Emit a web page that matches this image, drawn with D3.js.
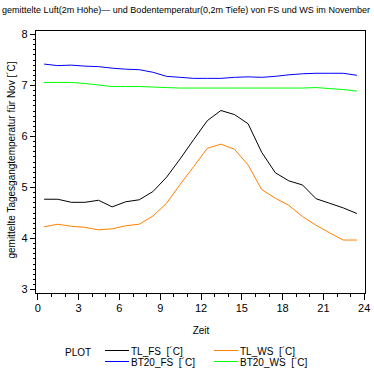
<!DOCTYPE html>
<html>
<head>
<meta charset="utf-8">
<script src="https://cdn.jsdelivr.net/npm/d3@7"></script>
<style>
  body { margin: 0; background: #fff; }
  svg text { font-family: Arial, "Liberation Sans", sans-serif; fill: #000; white-space: pre; }
</style>
</head>
<body>
<svg class="main-svg" width="374" height="374"></svg>
<script>
// stundenmittel, gemessen zur halben stunde
var hours = [0.5, 1.5, 2.5, 3.5, 4.5, 5.5, 6.5, 7.5, 8.5, 9.5, 10.5, 11.5,
             12.5, 13.5, 14.5, 15.5, 16.5, 17.5, 18.5, 19.5, 20.5, 21.5, 22.5, 23.5];

var tlFS = [4.76, 4.76, 4.70, 4.70, 4.74, 4.61, 4.71, 4.75, 4.91, 5.19, 5.55, 5.93,
            6.30, 6.50, 6.42, 6.24, 5.68, 5.28, 5.12, 5.04, 4.77, 4.68, 4.59, 4.48];
var tlWS = [4.22, 4.27, 4.23, 4.21, 4.16, 4.18, 4.24, 4.27, 4.43, 4.68, 5.05, 5.40,
            5.76, 5.84, 5.74, 5.43, 4.95, 4.78, 4.64, 4.42, 4.25, 4.10, 3.96, 3.96];
var bt20FS = [7.41, 7.38, 7.39, 7.37, 7.36, 7.33, 7.31, 7.30, 7.25, 7.17, 7.15, 7.13,
              7.13, 7.13, 7.15, 7.16, 7.15, 7.17, 7.20, 7.22, 7.23, 7.23, 7.23, 7.19];
var bt20WS = [7.05, 7.05, 7.05, 7.03, 7.00, 6.97, 6.97, 6.97, 6.96, 6.95, 6.94, 6.94,
              6.94, 6.94, 6.94, 6.94, 6.94, 6.94, 6.94, 6.94, 6.95, 6.93, 6.91, 6.88];

var xTicks = [0, 3, 6, 9, 12, 15, 18, 21, 24];
var yTicks = [3, 4, 5, 6, 7, 8];

var series = [
  { name: 'TL_FS  [´C]',   values: tlFS,   colour: '#000000' },
  { name: 'TL_WS  [´C]',   values: tlWS,   colour: '#ff8000' },
  { name: 'BT20_FS  [´C]', values: bt20FS, colour: '#0000ff' },
  { name: 'BT20_WS  [´C]', values: bt20WS, colour: '#00ff00' }
];

var svg = d3.select('.main-svg');

var x = d3.scaleLinear().domain([0, 24]).range([37.3, 363.7]),
    y = d3.scaleLinear().domain([3, 8]).range([289, 34]);

// titel
svg.append('text')
  .attr('x', 2).attr('y', 13)
  .attr('font-size', 9)
  .attr('textLength', 368)
  .attr('lengthAdjust', 'spacingAndGlyphs')
  .text('gemittelte Luft(2m Höhe)\u2014 und Bodentemperatur(0,2m Tiefe) von FS und WS im November');

// rahmen
svg.append('rect')
  .attr('x', 35.5).attr('y', 30.5)
  .attr('width', 330).attr('height', 263)
  .attr('fill', 'none')
  .attr('stroke', '#000')
  .attr('shape-rendering', 'crispEdges');

// y achse
var yMinor = d3.range(30, 81).map(d => d / 10);
svg.append('g')
  .attr('transform', 'translate(35.5,0)')
  .call(d3.axisLeft(y).tickValues(yMinor).tickSize(3).tickFormat(''))
  .call(g => g.select('.domain').remove());
svg.append('g')
  .attr('transform', 'translate(35.5,0)')
  .call(d3.axisLeft(y).tickValues(yTicks).tickSize(6).tickPadding(2).tickFormat(d3.format('d')))
  .call(g => g.select('.domain').remove())
  .call(g => g.selectAll('text').attr('font-size', 11).style('font-family', 'Arial, "Liberation Sans", sans-serif'));

// x achse
svg.append('g')
  .attr('transform', 'translate(0,293.5)')
  .call(d3.axisBottom(x).tickValues(d3.range(0, 25)).tickSize(3).tickFormat(''))
  .call(g => g.select('.domain').remove());
svg.append('g')
  .attr('transform', 'translate(0,293.5)')
  .call(d3.axisBottom(x).tickValues(xTicks).tickSize(6).tickPadding(5).tickFormat(d3.format('d')))
  .call(g => g.select('.domain').remove())
  .call(g => g.selectAll('text').attr('font-size', 11).style('font-family', 'Arial, "Liberation Sans", sans-serif'));

svg.selectAll('.tick line').attr('shape-rendering', 'crispEdges');

// achsentitel
svg.append('text')
  .attr('x', 201).attr('y', 334)
  .attr('text-anchor', 'middle')
  .attr('font-size', 10)
  .text('Zeit');

svg.append('text')
  .attr('transform', 'translate(15,160) rotate(-90)')
  .attr('text-anchor', 'middle')
  .attr('font-size', 10)
  .text('gemittelte Tagesgangtemperatur für Nov [´C]');

// kurven
var line = d3.line()
  .x((d, i) => x(hours[i]))
  .y(d => y(d));

svg.selectAll('path.series')
  .data(series)
  .enter()
  .append('path')
  .attr('class', 'series')
  .attr('fill', 'none')
  .attr('stroke', d => d.colour)
  .attr('stroke-width', 1)
  .attr('d', d => line(d.values));

// legende
svg.append('text')
  .attr('x', 65).attr('y', 356)
  .attr('font-size', 10)
  .text('PLOT');

var legend = svg.selectAll('g.legend')
  .data(series)
  .enter()
  .append('g')
  .attr('class', 'legend')
  .attr('transform', (d, i) => 'translate(' + (i % 2 === 0 ? 105 : 214) + ',' + (i < 2 ? 350.5 : 361.5) + ')');

legend.append('line')
  .attr('x1', 0).attr('x2', 24)
  .attr('stroke', d => d.colour)
  .attr('shape-rendering', 'crispEdges');

legend.append('text')
  .attr('x', 26).attr('y', 4)
  .attr('font-size', 10)
  .text(d => d.name);
</script>
</body>
</html>
